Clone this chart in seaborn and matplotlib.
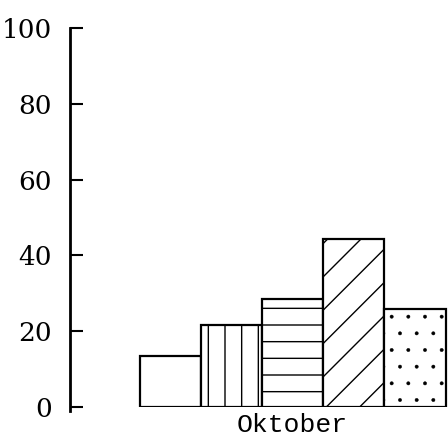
import numpy as np
import pandas as pd
import seaborn as sns
import matplotlib as mpl
from matplotlib import pyplot as plt

# values
bar_ids = ["a", "b", "c", "d", "e"]
values = [13.5, 21.6, 28.5, 44.3, 25.9]
hatches = ["", "|", "-", "/", "."]
month_label = "Oktober"
y_ticks = [0, 20, 40, 60, 80, 100]

sns.set_style("white")
mpl.rcParams['hatch.linewidth'] = 1.0

df = pd.DataFrame({'bar': bar_ids, 'value': values})

fig = plt.figure(figsize=(4.48, 4.38), dpi=100)
ax = fig.add_axes([70 / 448, 31 / 438, 378 / 448, 379 / 438])

sns.barplot(data=df, x='bar', y='value', width=1.0, color='white',
            edgecolor='black', linewidth=1.6, saturation=1, ax=ax)
for patch, h in zip(ax.patches, hatches):
    patch.set_hatch(h)
    patch.set_facecolor('white')
    if h == ".":
        # tiny dots like the scan
        try:
            patch.set_hatch_linewidth(0.3)
        except AttributeError:
            pass

ax.set_xlim(-1.64, 4.54)
ax.set_ylim(0, 100)

for side in ['top', 'right', 'bottom']:
    ax.spines[side].set_visible(False)
ax.spines['left'].set_linewidth(2)
ax.spines['left'].set_color('black')
ax.spines['left'].set_bounds(-1, 100)

ax.set_yticks(y_ticks)
ax.set_yticklabels([str(t) for t in y_ticks], fontfamily='DejaVu Serif',
                   fontsize=19, color='black')
ax.tick_params(axis='y', left=True, direction='in', length=9, width=1.5,
               pad=13, color='black')
ax.set_xticks([2])
ax.set_xticklabels([month_label], fontfamily='Liberation Mono', fontsize=19,
                   color='black')
ax.tick_params(axis='x', bottom=False, length=0, pad=4)
ax.set_xlabel('')
ax.set_ylabel('')
ax.grid(False)

plt.savefig("out.png", dpi=100)
